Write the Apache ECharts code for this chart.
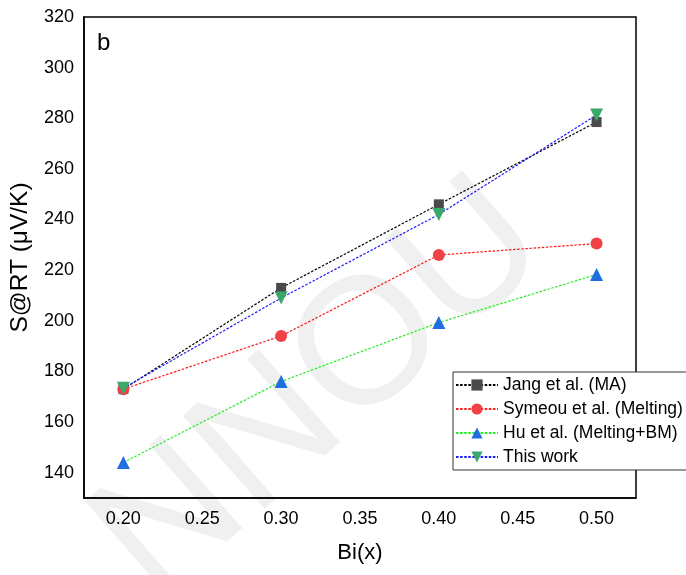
<!DOCTYPE html>
<html>
<head>
<meta charset="utf-8">
<script src="https://cdn.jsdelivr.net/npm/echarts@6/dist/echarts.min.js"></script>
<style>
  html, body { margin: 0; padding: 0; background: #fff; }
  #chart { width: 686px; height: 575px; }
</style>
</head>
<body>
<div id="chart"></div>
<script>
// Bi content x and room-temperature Seebeck coefficient S (μV/K)
const biX = [0.20, 0.30, 0.40, 0.50];
const jangMA = [173, 213, 246, 278.5];
const symeouMelting = [173, 194, 226, 230.5];
const huMeltingBM = [144, 176, 199.3, 218.3];
const thisWork = [173.4, 209, 242, 281.3];

const seriesNames = ['Jang et al. (MA)', 'Symeou et al. (Melting)', 'Hu et al. (Melting+BM)', 'This work'];

const FONT = 'Arial, "Liberation Sans", sans-serif';

function pairs(ys) {
  return biX.map((x, i) => [x, ys[i]]);
}

function lineSeries(name, ys, lineColor, markColor, symbol, size, rotate) {
  return {
    name: name,
    type: 'line',
    data: pairs(ys),
    symbol: symbol,
    symbolSize: size,
    symbolRotate: rotate || 0,
    showSymbol: true,
    lineStyle: { color: lineColor, width: 1.2, type: [2.5, 1.6] },
    itemStyle: { color: markColor, borderWidth: 0 },
    emphasis: { disabled: true },
    animation: false,
    z: 3
  };
}

const chart = echarts.init(document.getElementById('chart'), null, { renderer: 'canvas' });

chart.setOption({
  backgroundColor: '#fff',
  animation: false,
  textStyle: { fontFamily: FONT },
  grid: {
    left: 83, top: 17, right: 50, bottom: 77,
    show: true, borderColor: '#000', borderWidth: 1.5, backgroundColor: 'transparent'
  },
  graphic: [
    {
      type: 'text',
      left: 97, top: 31,
      style: { text: 'b', font: '24px ' + FONT, fill: '#000' },
      z: 10
    },
    {
      type: 'text',
      x: 322, y: 392,
      rotation: 0.72,
      style: {
        text: 'NNOU',
        font: '180px ' + FONT,
        fill: '#f0f0f0',
        align: 'center',
        verticalAlign: 'middle'
      },
      z: -1,
      silent: true
    }
  ],
  legend: {
    orient: 'vertical',
    left: 453, top: 372,
    data: seriesNames,
    backgroundColor: '#fff',
    borderColor: '#333',
    borderWidth: 1,
    borderRadius: 0,
    padding: [4, 5, 4, 2],
    itemWidth: 42,
    itemHeight: 14,
    itemGap: 6,
    textStyle: { fontSize: 17.5, color: '#000', fontFamily: FONT },
    selectedMode: false,
    z: 10
  },
  xAxis: {
    type: 'value',
    min: 0.175, max: 0.525, interval: 0.025,
    name: 'Bi(x)',
    nameLocation: 'middle',
    nameGap: 44,
    nameTextStyle: { fontSize: 22, color: '#000', fontFamily: FONT },
    axisLine: { show: true, onZero: false, lineStyle: { color: '#000', width: 1.5 } },
    axisTick: { show: false },
    splitLine: { show: false },
    axisLabel: {
      fontSize: 18, color: '#000', margin: 12, fontFamily: FONT,
      formatter: v => (Math.round(v * 1000) % 50 === 0 ? v.toFixed(2) : '')
    }
  },
  yAxis: {
    type: 'value',
    min: 130, max: 320, interval: 10,
    name: 'S@RT (μV/K)',
    nameLocation: 'middle',
    nameGap: 45,
    nameTextStyle: { fontSize: 24.5, color: '#000', fontFamily: FONT },
    axisLine: { show: true, onZero: false, lineStyle: { color: '#000', width: 1.5 } },
    axisTick: { show: false },
    splitLine: { show: false },
    axisLabel: {
      fontSize: 18, color: '#000', margin: 10, fontFamily: FONT,
      formatter: v => (Math.round(v) % 20 === 0 ? String(v) : '')
    }
  },
  series: [
    lineSeries(seriesNames[0], jangMA, '#000000', '#4a4a4a', 'rect', 10),
    lineSeries(seriesNames[1], symeouMelting, '#ff1a1a', '#ef4146', 'circle', 12),
    lineSeries(seriesNames[2], huMeltingBM, '#22ee22', '#1f6fe0', 'triangle', 13),
    lineSeries(seriesNames[3], thisWork, '#1a1aff', '#3aa86b', 'triangle', 13, 180)
  ]
});
</script>
</body>
</html>
